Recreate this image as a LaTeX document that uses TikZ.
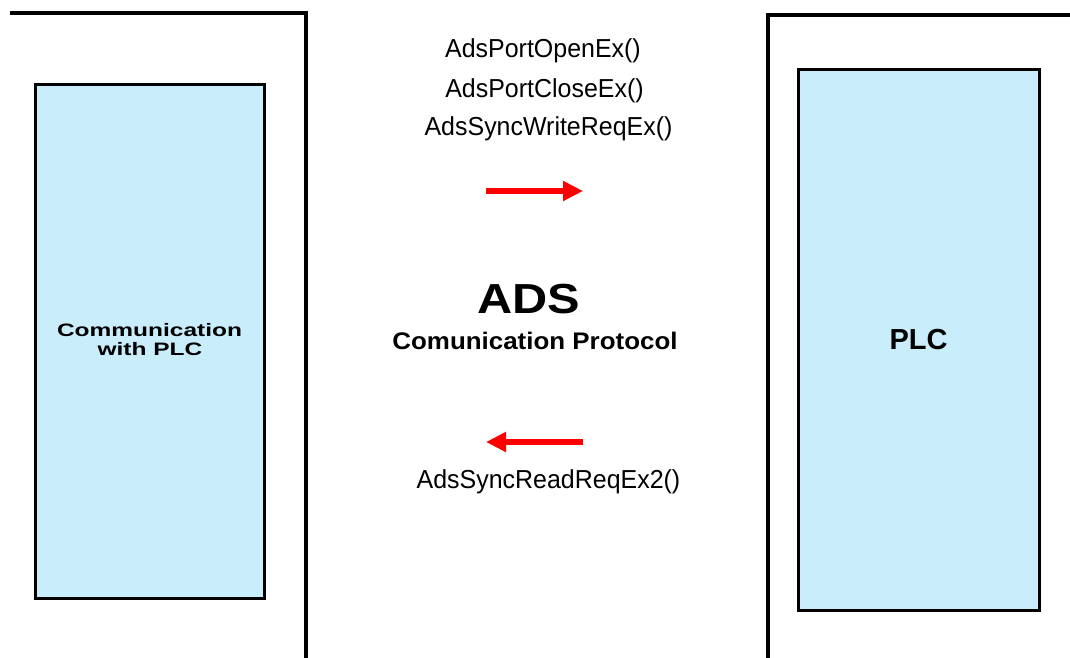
\documentclass[tikz,border=0pt]{standalone}
\usepackage{fontspec}
\usetikzlibrary{arrows.meta}
\setmainfont{Liberation Sans}
\newfontfamily\callfont[FakeStretch=0.96]{Liberation Sans}
\newfontfamily\boxfont[FakeStretch=1.36]{Liberation Sans}
\newfontfamily\titlefont[FakeStretch=1.16]{Liberation Sans}
\newfontfamily\subfont[FakeStretch=1.08]{Liberation Sans}
\definecolor{panelblue}{RGB}{202,237,251}
\definecolor{arrowred}{RGB}{255,0,0}
\tikzset{
  frame/.style={line width=4pt, draw=black, line join=miter},
  panel/.style={draw=black, line width=3pt, fill=panelblue, inner sep=0pt},
  call/.style={anchor=base, inner sep=0pt, font=\callfont\fontsize{26}{30}\selectfont},
  flow/.style={draw=arrowred, line width=6.5pt, -{Triangle[length=20pt,width=19pt]}},
}
\begin{document}
\begin{tikzpicture}[x=1pt,y=-1pt]
\useasboundingbox (0,0) rectangle (1070,657);

% host side and PLC side enclosures
\coordinate (hostA) at (10,13);
\coordinate (hostB) at (306,13);
\coordinate (hostC) at (306,662);
\draw[frame] (hostA) -- (hostB) -- (hostC);
\coordinate (plcA) at (1075,15);
\coordinate (plcB) at (768,15);
\coordinate (plcC) at (768,662);
\draw[frame] (plcA) -- (plcB) -- (plcC);

% the two endpoints
\node[panel, minimum width=229pt, minimum height=514pt] (client) at (149.5,341) {};
\node[anchor=base, inner sep=0pt, font=\boxfont\bfseries\fontsize{18}{19}\selectfont]
  (clientA) at (149.5,336) {Communication};
\node[anchor=base, inner sep=0pt, font=\boxfont\bfseries\fontsize{18}{19}\selectfont]
  (clientB) at (150,355) {with PLC};
\node[panel, minimum width=241pt, minimum height=541pt,
      font=\fontsize{29}{32}\selectfont\bfseries]
  (plc) at (918.5,339.5) {PLC};

% ADS function calls
\node[call] (open)  at (543,57)    {AdsPortOpenEx()};
\node[call] (close) at (544.5,97)  {AdsPortCloseEx()};
\node[call] (write) at (548.5,135) {AdsSyncWriteReqEx()};
\node[call] (read)  at (548.5,488) {AdsSyncReadReqEx2()};

% protocol title
\node[anchor=base, inner sep=0pt, font=\titlefont\bfseries\fontsize{42}{46}\selectfont]
  (ads) at (528.5,313) {ADS};
\node[anchor=base, inner sep=0pt, font=\subfont\bfseries\fontsize{24}{28}\selectfont]
  (proto) at (535,349) {Comunication Protocol};

% request / response direction
\coordinate (reqS) at (486,191);
\coordinate (reqE) at (583,191);
\draw[flow] (reqS) -- (reqE);
\coordinate (resS) at (583,442);
\coordinate (resE) at (486,442);
\draw[flow] (resS) -- (resE);
\end{tikzpicture}
\end{document}
